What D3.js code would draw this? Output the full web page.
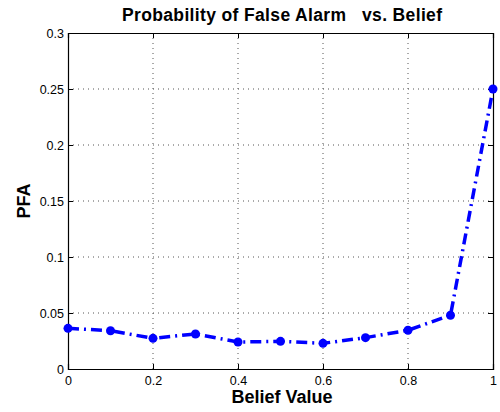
<!DOCTYPE html>
<html><head><meta charset="utf-8">
<script src="https://cdn.jsdelivr.net/npm/d3@7"></script>
<style>body{margin:0;background:#fff}svg{display:block}</style>
</head><body>
<script>
const beliefs = [0, 0.1, 0.2, 0.3, 0.4, 0.5, 0.6, 0.7, 0.8, 0.9, 1.0];
const pfa = [0.0363, 0.0342, 0.0274, 0.0313, 0.0241, 0.0247, 0.0229, 0.0280, 0.0346, 0.0480, 0.25];
const xTicks = [0, 0.2, 0.4, 0.6, 0.8, 1];
const yTicks = [0, 0.05, 0.1, 0.15, 0.2, 0.25, 0.3];
const xTickLabels = ["0", "0.2", "0.4", "0.6", "0.8", "1"];
const yTickLabels = ["0", "0.05", "0.1", "0.15", "0.2", "0.25", "0.3"];

const W = 500, H = 412;
const L = 68, R = 493, T = 33, B = 369;
const svg = d3.select("body").append("svg").attr("width", W).attr("height", H);
const x = d3.scaleLinear().domain([0, 1]).range([L, R]);
const y = d3.scaleLinear().domain([0, 0.3]).range([B, T]);
const font = "Liberation Sans, Arial, Helvetica, sans-serif";

// grid
const g = svg.append("g");
g.selectAll(".gx").data(xTicks.slice(1, -1)).enter().append("line")
  .attr("x1", d => x(d)).attr("x2", d => x(d)).attr("y1", T).attr("y2", B)
  .attr("stroke", "#555").attr("stroke-width", 1).attr("stroke-dasharray", "1,4");
g.selectAll(".gy").data(yTicks.slice(1, -1)).enter().append("line")
  .attr("y1", d => y(d)).attr("y2", d => y(d)).attr("x1", L).attr("x2", R)
  .attr("stroke", "#555").attr("stroke-width", 1).attr("stroke-dasharray", "1,4");

// axes (ticks inward)
const ax = svg.append("g").attr("transform", `translate(0,${B})`)
  .call(d3.axisBottom(x).tickValues(xTicks).tickSize(-5).tickPadding(7).tickFormat((d,i) => xTickLabels[i]));
const axT = svg.append("g").attr("transform", `translate(0,${T})`)
  .call(d3.axisTop(x).tickValues(xTicks).tickSize(-5).tickFormat(""));
const ay = svg.append("g").attr("transform", `translate(${L},0)`)
  .call(d3.axisLeft(y).tickValues(yTicks).tickSize(-5).tickPadding(4).tickFormat((d,i) => yTickLabels[i]));
const ayR = svg.append("g").attr("transform", `translate(${R},0)`)
  .call(d3.axisRight(y).tickValues(yTicks).tickSize(-5).tickFormat(""));
[ax, axT, ay, ayR].forEach(a => {
  a.select(".domain").attr("stroke", "#000").attr("stroke-width", 1.2);
  a.selectAll(".tick line").attr("stroke", "#000");
  a.selectAll("text").attr("font-family", font).attr("font-size", 12.5).attr("fill", "#000");
});

// line
const line = d3.line().x((d, i) => x(beliefs[i])).y(d => y(d));
svg.append("path").datum(pfa).attr("d", line)
  .attr("fill", "none").attr("stroke", "#0000ff").attr("stroke-width", 3.5)
  .attr("stroke-dasharray", "11,5,2,5");
svg.selectAll(".pt").data(pfa).enter().append("circle")
  .attr("cx", (d, i) => x(beliefs[i])).attr("cy", d => y(d)).attr("r", 4.5)
  .attr("fill", "#0000ff");

// texts
svg.append("text").attr("x", 282).attr("y", 21).attr("text-anchor", "middle")
  .attr("font-family", font).attr("font-size", 17.5).attr("font-weight", "bold")
  .attr("textLength", 320).attr("lengthAdjust", "spacing")
  .style("white-space", "pre").text("Probability of False Alarm   vs. Belief");
svg.append("text").attr("x", 282).attr("y", 403).attr("text-anchor", "middle")
  .attr("font-family", font).attr("font-size", 18).attr("font-weight", "bold").text("Belief Value");
svg.append("text").attr("transform", `translate(30,${(T + B) / 2}) rotate(-90)`).attr("text-anchor", "middle")
  .attr("font-family", font).attr("font-size", 18).attr("font-weight", "bold").text("PFA");
</script>
</body></html>
